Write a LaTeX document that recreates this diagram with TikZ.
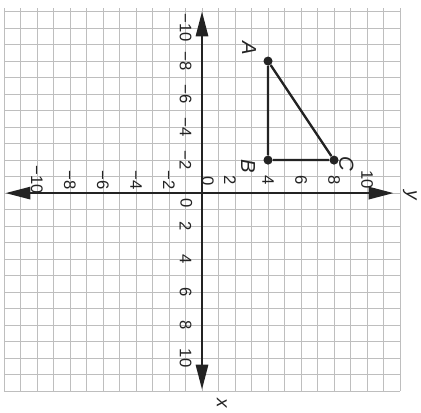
\documentclass[tikz,border=0pt]{standalone}
\usepackage{fontspec}
\setmainfont{Liberation Sans}
\usepackage{tikz}
\usetikzlibrary{arrows.meta, positioning}
\usepackage{xcolor}
\definecolor{gridgray}{RGB}{190,190,190}
\definecolor{inkdark}{RGB}{35,35,35}
\newcommand{\ticktext}[1]{\ifnum#1<0 −\the\numexpr-#1\relax\else#1\fi}
\tikzset{
  gridline/.style={draw=gridgray, line width=0.5pt, step=1},
  axisline/.style={draw=inkdark, line width=1.2pt,
    {Triangle[length=0.6cm, width=0.3cm]}-{Triangle[length=0.6cm, width=0.3cm]}},
  sideline/.style={draw=inkdark, line width=1.6pt},
  ticklabel/.style={text=inkdark, font=\fontsize{11.5}{13}\selectfont, inner sep=0pt},
  vertexlabel/.style={text=inkdark, font=\fontsize{14}{16}\selectfont\itshape, inner sep=0pt},
  axislabel/.style={text=inkdark, font=\fontsize{13}{15}\selectfont\itshape, inner sep=0pt},
  vertex/.style={circle, fill=inkdark, minimum size=0.22cm, inner sep=0pt}
}

\begin{document}
\begin{tikzpicture}[x=0.4cm, y=0.4cm]
  \useasboundingbox (-12.24,-13.27) rectangle (13.27,11.70);
  \begin{scope}[rotate=-90, transform shape]
    \draw[gridline] (-11.2,-12) grid (12,12);

    % axes
    \coordinate (xneg) at (-11,0);
    \coordinate (xpos) at (11.9,0);
    \coordinate (yneg) at (0,-11.9);
    \coordinate (ypos) at (0,11.6);
    \draw[axisline] (xneg) -- (xpos);
    \draw[axisline] (yneg) -- (ypos);
    \node[axislabel] (xname) at (12.75,1.2) {x};
    \node[axislabel] (yname) at (0.1,12.6) {y};

    % tick labels
    \foreach \n in {-10,-8,-6,-4,-2,2,4,6,8,10}
      \node[ticklabel] (xtick\n) at (\n,-1) {\ticktext{\n}};
    \foreach \n in {-10,-8,-6,-4,-2,4,6,8,10}
      \node[ticklabel] (ytick\n) at (-0.8,\n) {\ticktext{\n}};
    \node[ticklabel] (ytick2) at (-0.8,1.7) {2};
    \node[ticklabel] (xzero) at (0.6,-0.95) {0};
    \node[ticklabel] (yzero) at (-0.7,0.35) {0};

    % triangle ABC
    \node[vertex] (A) at (-8,4) {};
    \node[vertex] (B) at (-2,4) {};
    \node[vertex] (C) at (-2,8) {};
    \draw[sideline] (A) -- (B) -- (C) -- (A);
    \node[vertexlabel] (Alab) at (-8.8,2.85) {A};
    \node[vertexlabel] (Blab) at (-1.6,2.8) {B};
    \node[vertexlabel] (Clab) at (-1.75,8.75) {C};
  \end{scope}
\end{tikzpicture}
\end{document}
